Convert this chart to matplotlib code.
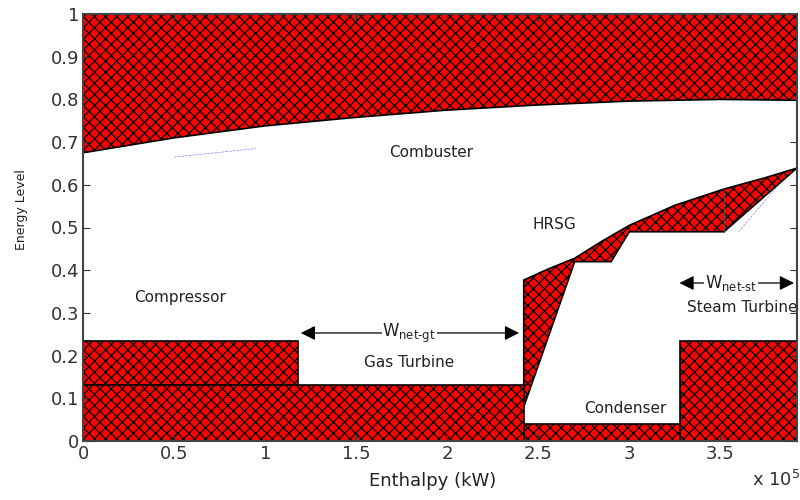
import numpy as np
import matplotlib
matplotlib.use("Agg")
import matplotlib.pyplot as plt

plt.rcParams['font.family'] = ['DejaVu Sans']
plt.rcParams['hatch.linewidth'] = 0.9

# energy level vs enthalpy (x in kW)
x_max = 3.92e5
comb_x = [0, 0.5e5, 1.0e5, 1.5e5, 2.0e5, 2.5e5, 3.0e5, 3.5e5, 3.92e5]
comb_y = [0.675, 0.71, 0.738, 0.758, 0.775, 0.787, 0.796, 0.800, 0.798]

hrsg_top_x = [2.42e5, 2.55e5, 2.70e5, 2.85e5, 3.0e5, 3.25e5, 3.52e5, 3.75e5, 3.92e5]
hrsg_top_y = [0.377, 0.402, 0.428, 0.468, 0.505, 0.552, 0.59, 0.617, 0.639]
hrsg_bot_x = [2.42e5, 2.70e5, 2.90e5, 3.0e5, 3.52e5, 3.92e5]
hrsg_bot_y = [0.08, 0.42, 0.42, 0.49, 0.49, 0.639]

# blocks: (x0, x1, y0, y1)
compressor = (0, 1.18e5, 0.13, 0.235)
gas_turbine = (0, 2.42e5, 0, 0.13)
condenser = (2.42e5, 3.28e5, 0, 0.04)
steam_turbine = (3.28e5, x_max, 0, 0.235)

fig = plt.figure(figsize=(8, 5), dpi=100)
ax = fig.add_axes([0.104, 0.118, 0.892, 0.854])

style = dict(facecolor='red', edgecolor='black', hatch='xxx', linewidth=1.2)

# combustor region (top)
ax.fill(comb_x + [x_max, 0], comb_y + [1, 1], **style)

# HRSG region
ax.fill(hrsg_top_x + hrsg_bot_x[::-1], hrsg_top_y + hrsg_bot_y[::-1], **style)
ax.plot([3.52e5, 3.52e5], [0.49, 0.59], color='#555555', lw=0.6)

for b in [compressor, gas_turbine, condenser, steam_turbine]:
    x0, x1, y0, y1 = b
    ax.fill([x0, x1, x1, x0], [y0, y0, y1, y1], **style)

# faint blue dashed traces
ax.plot([0.5e5, 0.95e5], [0.665, 0.685], color='blue', lw=0.5, ls='--', alpha=0.5)
ax.plot([3.6e5, 3.82e5], [0.49, 0.6], color='blue', lw=0.5, ls='--', alpha=0.5)

# labels
fs = 11
tc = '#222222'
ax.text(1.91e5, 0.676, 'Combuster', fontsize=fs, ha='center', va='center', color=tc)
ax.text(2.59e5, 0.506, 'HRSG', fontsize=fs, ha='center', va='center', color=tc)
ax.text(0.53e5, 0.335, 'Compressor', fontsize=fs, ha='center', va='center', color=tc)
ax.text(1.79e5, 0.183, 'Gas Turbine', fontsize=fs, ha='center', va='center', color=tc)
ax.text(2.98e5, 0.077, 'Condenser', fontsize=fs, ha='center', va='center', color=tc)
ax.text(3.62e5, 0.312, 'Steam Turbine', fontsize=fs, ha='center', va='center', color=tc)

arr = dict(arrowstyle='<|-|>', color='black', lw=0.9, mutation_scale=22)
ax.annotate('', xy=(1.18e5, 0.253), xytext=(2.41e5, 0.253), arrowprops=arr)
ax.text(1.79e5, 0.253, r'W$_{\mathregular{net\text{-}gt}}$', fontsize=12, ha='center', va='center',
        color=tc, bbox=dict(facecolor='white', edgecolor='none', pad=0.5))
ax.annotate('', xy=(3.26e5, 0.37), xytext=(3.92e5, 0.37), arrowprops=arr)
ax.text(3.56e5, 0.37, r'W$_{\mathregular{net\text{-}st}}$', fontsize=12, ha='center', va='center',
        color=tc, bbox=dict(facecolor='white', edgecolor='none', pad=0.5))

ax.set_xlim(0, x_max)
ax.set_ylim(0, 1)
ax.set_xticks(np.arange(0, 3.6e5, 0.5e5))
ax.set_xticklabels(['0', '0.5', '1', '1.5', '2', '2.5', '3', '3.5'])
ax.set_yticks(np.arange(0, 1.01, 0.1))
ax.set_yticklabels(['0', '0.1', '0.2', '0.3', '0.4', '0.5', '0.6', '0.7', '0.8', '0.9', '1'])
ax.tick_params(direction='in', length=5, labelsize=13, colors='#333333', right=True, top=True, pad=3)
for s in ax.spines.values():
    s.set_color('#444444')
    s.set_linewidth(1.5)

ax.set_xlabel('Enthalpy (kW)', fontsize=13, color=tc)
ax.xaxis.set_label_coords(0.49, -0.072)
ax.set_ylabel('Energy Level', fontsize=9, color=tc)
ax.yaxis.set_label_coords(-0.078, 0.543)
fig.text(0.94, 0.02, r'x 10$^5$', fontsize=13, ha='left', va='bottom', color='#333333')

fig.savefig('out.png', dpi=100)
